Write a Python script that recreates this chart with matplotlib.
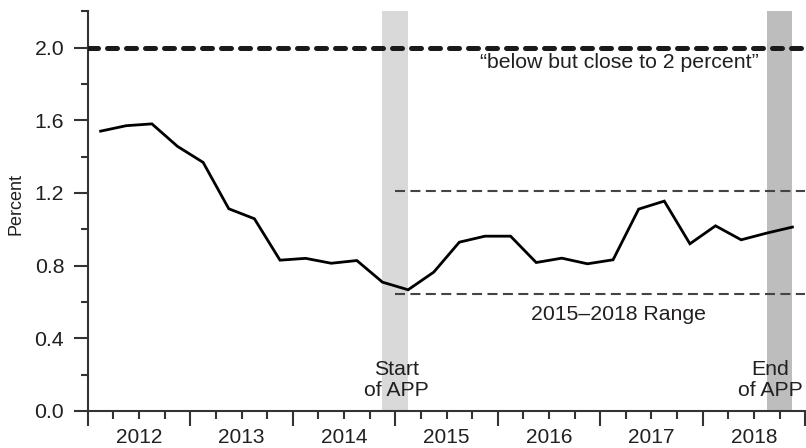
import matplotlib.pyplot as plt
import numpy as np

plt.rcParams["font.family"] = ["Liberation Sans", "DejaVu Sans"]

# quarterly data, 2012Q1 .. 2018Q4 (plotted at quarter midpoints)
quarters = np.arange(2012.125, 2019.0, 0.25)
inflation = [1.54, 1.57, 1.58, 1.456, 1.368, 1.113, 1.058, 0.83,
             0.84, 0.813, 0.828, 0.709, 0.667, 0.764, 0.929, 0.962,
             0.962, 0.817, 0.841, 0.81, 0.832, 1.111, 1.155, 0.92,
             1.019, 0.942, 0.979, 1.012]
target = 2.0
range_low, range_high = 0.645, 1.208
range_start = 2015.0
app_start = (2014.875, 2015.125)
app_end = (2018.625, 2018.875)
years = list(range(2012, 2019))

TXT = "#231f20"
FS = 15.3

fig = plt.figure(figsize=(8.06, 4.48), dpi=100)
ax = fig.add_axes([0.109, 0.0826, 0.89, 0.8924])

ax.axvspan(*app_start, color="#d9d9d9", lw=0, zorder=0)
ax.axvspan(*app_end, color="#bdbdbd", lw=0, zorder=0)

ax.axhline(target, color="#1a1a1a", lw=3.6, dashes=(2.0, 1.8),
           dash_capstyle="round", zorder=3)
for lvl in (range_low, range_high):
    ax.plot([range_start, 2019.0], [lvl, lvl], color="#444444", lw=1.5,
            dashes=(4.8, 2.6), zorder=2)
ax.plot(quarters, inflation, color="black", lw=2.0, zorder=4,
        solid_joinstyle="miter")

ax.text(2017.19, 1.915, "\u201cbelow but close to 2 percent\u201d",
        ha="center", va="center", fontsize=FS, color=TXT)
ax.text(2017.18, 0.53, "2015\u20132018 Range", ha="center", va="center",
        fontsize=FS, color=TXT)
ax.text(2015.01, 0.17, "Start\nof APP", ha="center", va="center",
        fontsize=FS, color=TXT, linespacing=1.1)
ax.text(2018.66, 0.17, "End\nof APP", ha="center", va="center",
        fontsize=FS, color=TXT, linespacing=1.1)

ax.set_xlim(2012.0, 2019.0)
ax.set_ylim(0, 2.2)
ax.set_xticks(np.arange(2012, 2020))
ax.set_xticklabels([])
ax.set_xticks(np.arange(2012, 2019.01, 0.25), minor=True)
for yr in years:
    ax.text(yr + 0.5, -0.066, str(yr), transform=ax.get_xaxis_transform(),
            ha="center", va="center", fontsize=15, color=TXT)

ax.set_yticks(np.arange(0, 2.01, 0.4))
ax.set_yticklabels([f"{v:.1f}" for v in np.arange(0, 2.01, 0.4)])
ax.set_yticks(np.arange(0, 2.21, 0.2), minor=True)

ax.tick_params(which="major", length=10, width=1.5, color="#333333",
               labelsize=FS, labelcolor=TXT, pad=7)
ax.tick_params(which="minor", length=5, width=1.5, color="#333333")
ax.tick_params(axis="x", which="minor", length=6)
ax.tick_params(axis="x", which="major", length=11)

ax.set_ylabel("Percent", fontsize=13, color=TXT, va="center")
ax.yaxis.set_label_coords(-0.1, 0.5175)
ax.spines[["top", "right"]].set_visible(False)
for s in ["left", "bottom"]:
    ax.spines[s].set_linewidth(1.5)
    ax.spines[s].set_color("#333333")

fig.savefig("out.png", dpi=100)
